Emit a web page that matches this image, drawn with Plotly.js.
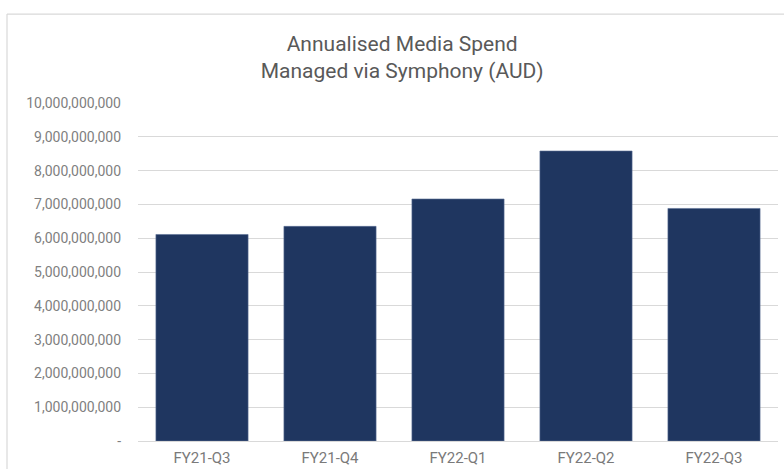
<!DOCTYPE html>
<html>
<head>
<meta charset="utf-8">
<script src="https://cdn.plot.ly/plotly-3.0.1.min.js"></script>
<style>html,body{margin:0;padding:0;background:#fff;}#chart{width:784px;height:469px;}</style>
</head>
<body>
<div id="chart"></div>
<script>
const categories = ["FY21-Q3", "FY21-Q4", "FY22-Q1", "FY22-Q2", "FY22-Q3"];
const spend = [6110000000, 6350000000, 7160000000, 8580000000, 6880000000];
const yTickVals = [0, 1e9, 2e9, 3e9, 4e9, 5e9, 6e9, 7e9, 8e9, 9e9, 1e10];
const yTickText = ["-", "1,000,000,000", "2,000,000,000", "3,000,000,000", "4,000,000,000",
  "5,000,000,000", "6,000,000,000", "7,000,000,000", "8,000,000,000", "9,000,000,000", "10,000,000,000"];

const trace = {
  type: "bar",
  x: categories,
  y: spend,
  marker: {color: "#1f3660", line: {color: "#5a6f96", width: 0.6}},
  hoverinfo: "x+y"
};

const font = "Roboto, 'Noto Sans', sans-serif";
const layout = {
  width: 784, height: 469,
  margin: {l: 138, r: 6, t: 103, b: 28},
  paper_bgcolor: "#ffffff",
  plot_bgcolor: "#ffffff",
  bargap: 0.28,
  showlegend: false,
  font: {family: font, color: "#7f7f7f", size: 14},
  title: {
    text: "Annualised Media Spend<br>Managed via Symphony (AUD)",
    font: {family: font, size: 21, color: "#595959"},
    x: 0.513, xref: "container", xanchor: "center",
    y: 1 - 51 / 469, yref: "container", yanchor: "middle"
  },
  xaxis: {
    type: "category",
    showgrid: false,
    showline: false,
    zeroline: false,
    ticks: "",
    ticklabelstandoff: 6,
    tickfont: {family: font, size: 15, color: "#7a7a7a"}
  },
  yaxis: {
    range: [0, 1e10],
    tickvals: yTickVals,
    ticktext: yTickText,
    showgrid: true,
    gridcolor: "#d9d9d9",
    gridwidth: 1,
    zeroline: true,
    zerolinecolor: "#d9d9d9",
    zerolinewidth: 1,
    showline: false,
    ticks: "",
    ticklabelstandoff: 16,
    tickfont: {family: font, size: 14, color: "#7f7f7f"}
  },
  shapes: [
    {type: "line", xref: "paper", yref: "paper", x0: -0.2047, x1: 1.05, y0: 1.263, y1: 1.263,
     line: {color: "#d9d9d9", width: 1.2}},
    {type: "line", xref: "paper", yref: "paper", x0: -0.2047, x1: -0.2047, y0: 1.263, y1: -0.2,
     line: {color: "#d9d9d9", width: 1.2}}
  ]
};

Plotly.newPlot("chart", [trace], layout, {displayModeBar: false, staticPlot: true});
</script>
</body>
</html>
